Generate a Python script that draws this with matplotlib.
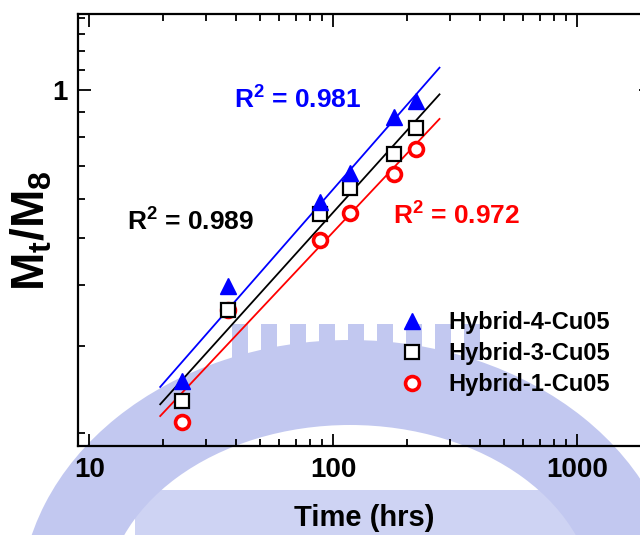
import numpy as np
import matplotlib
matplotlib.use("Agg")
import matplotlib.pyplot as plt
from matplotlib.ticker import FixedLocator, NullFormatter, FixedFormatter
from matplotlib.patches import Annulus, Rectangle
from matplotlib.transforms import IdentityTransform

plt.rcParams["font.family"] = ["Liberation Sans", "DejaVu Sans"]
plt.rcParams["font.weight"] = "bold"
plt.rcParams["axes.labelweight"] = "bold"
plt.rcParams["mathtext.fontset"] = "custom"
plt.rcParams["mathtext.rm"] = "Liberation Sans:bold"
plt.rcParams["mathtext.it"] = "Liberation Sans:bold"
plt.rcParams["mathtext.bf"] = "Liberation Sans:bold"

# sampling times (hrs)
time_hrs = [24, 37, 88, 117, 177, 218]

# Mt/Minf for each sample
hybrid4 = [0.2545, 0.399, 0.592, 0.677, 0.882, 0.947]
hybrid3 = [0.2318, 0.3564, 0.558, 0.631, 0.740, 0.838]
hybrid1 = [0.210, 0.3564, 0.495, 0.561, 0.674, 0.757]

r2_hybrid4 = 0.981
r2_hybrid3 = 0.989
r2_hybrid1 = 0.972

fit_range = (19.5, 272)

fig = plt.figure(figsize=(6.4, 5.35), dpi=100)

# faint watermark behind the plot (pixel coords, origin bottom-left)
wm = "#c2c8f0"
px = IdentityTransform()
fig.add_artist(Annulus((350, -70), (330, 265), 85, color=wm, lw=0,
                       transform=px, zorder=-2))
for i in range(9):
    fig.add_artist(Rectangle((232 + 29 * i, 175), 16, 36, color=wm, lw=0,
                             transform=px, zorder=-2))
fig.add_artist(Rectangle((135, 0), 470, 45, color=wm, lw=0, alpha=0.8,
                         transform=px, zorder=-2))

ax = fig.add_axes([0.1223, 0.1664, 0.8948, 0.807])
ax.patch.set_visible(False)
ax.set_xscale("log")
ax.set_yscale("log")
ax.set_xlim(9, 2000)
ax.set_ylim(0.188, 1.426)

t = np.array(time_hrs, dtype=float)
xfit = np.logspace(np.log10(fit_range[0]), np.log10(fit_range[1]), 50)

series = [
    (hybrid1, "red", "o", "Hybrid-1-Cu05"),
    (hybrid3, "black", "s", "Hybrid-3-Cu05"),
    (hybrid4, "blue", "^", "Hybrid-4-Cu05"),
]
handles = {}
for vals, col, mk, lab in series:
    k, b = np.polyfit(np.log10(t), np.log10(vals), 1)
    ax.plot(xfit, 10 ** (b + k * np.log10(xfit)), color=col, lw=1.3, zorder=2)
    if mk == "^":
        h, = ax.plot(t, vals, linestyle="none", marker=mk, ms=11,
                     color=col, zorder=3, label=lab)
    else:
        h, = ax.plot(t, vals, linestyle="none", marker=mk,
                     ms=10 if mk == "o" else 9.5,
                     mfc="white", mec=col, mew=2.6 if mk == "o" else 1.6,
                     zorder=3, label=lab)
    handles[lab] = h

r2_style = dict(fontsize=19, ha="center", va="center", transform=ax.transAxes)
ax.text(0.3836, 0.8015, "R$^{2}$ = %.3f" % r2_hybrid4, color="blue", **r2_style)
ax.text(0.1968, 0.519, "R$^{2}$ = %.3f" % r2_hybrid3, color="black", **r2_style)
ax.text(0.661, 0.533, "R$^{2}$ = %.3f" % r2_hybrid1, color="red", **r2_style)

order = ["Hybrid-4-Cu05", "Hybrid-3-Cu05", "Hybrid-1-Cu05"]
ax.legend([handles[o] for o in order], order, frameon=False,
          loc="upper left", bbox_to_anchor=(0.545, 0.335), fontsize=17,
          handletextpad=1.05, labelspacing=0.34, borderaxespad=0,
          handlelength=1.0)

# ticks
ax.xaxis.set_major_locator(FixedLocator([10, 100, 1000]))
ax.xaxis.set_major_formatter(FixedFormatter(["10", "100", "1000"]))
ax.xaxis.set_minor_locator(FixedLocator(
    [m * 10 ** e for e in range(0, 4) for m in range(2, 10)]))
ax.xaxis.set_minor_formatter(NullFormatter())
ax.yaxis.set_major_locator(FixedLocator([1]))
ax.yaxis.set_major_formatter(FixedFormatter(["1"]))
ax.yaxis.set_minor_locator(FixedLocator(
    [0.2, 0.3, 0.4, 0.5, 0.6, 0.7, 0.8, 0.9, 1.1, 1.2, 1.3, 1.4]))
ax.yaxis.set_minor_formatter(NullFormatter())
ax.tick_params(which="both", direction="in", top=True, right=True,
               width=1.3, labelsize=20, pad=8)
ax.tick_params(which="major", length=9)
ax.tick_params(which="minor", length=5)
for sp in ax.spines.values():
    sp.set_linewidth(1.6)

ax.set_xlabel("Time (hrs)", fontsize=21, labelpad=15)
ax.set_ylabel("M$_{t}$/M$_{8}$", fontsize=33, labelpad=-2)

fig.savefig("out.png", dpi=100)
